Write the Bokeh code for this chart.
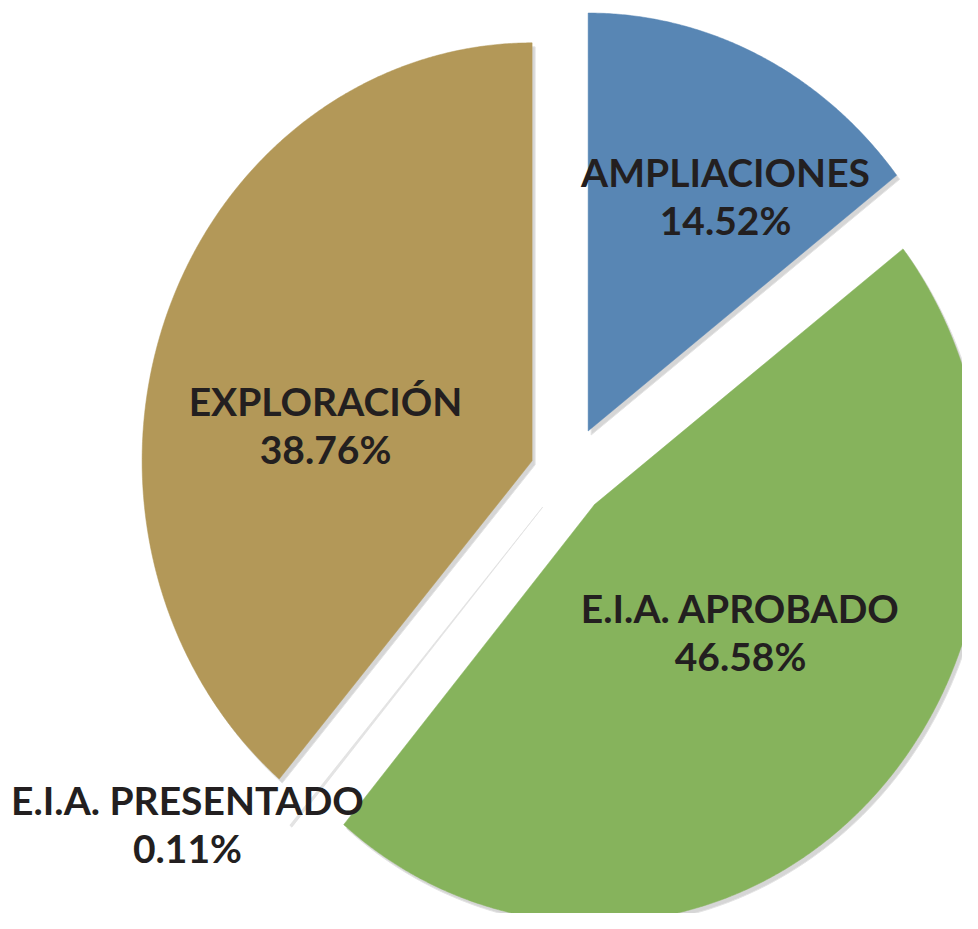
import numpy as np
from bokeh.plotting import figure
from bokeh.models import Range1d, ColumnDataSource
from bokeh.core.properties import value
from bokeh.embed import file_html
from bokeh.resources import INLINE

# ---- data ----
categories = ["AMPLIACIONES", "E.I.A. APROBADO", "E.I.A. PRESENTADO", "EXPLORACIÓN"]
shares = [14.52, 46.58, 0.11, 38.76]

# ---- styling / layout ----
colors = ["#5886b4", "#86b35c", "#e4e4e4", "#b39858"]
explode = [49, 41, 42, 41]          # explosion distance (px) for each slice
label_x = [725, 740, 187, 325]      # label centres (pixels)
label_y = [171, 607, 799, 400]
LINE_GAP = 48

W, H = 962, 913
CX, CY = 567.5, 474.5
RX, RY = 390.0, 418.0
SX = RX / RY

fr = np.array(shares) / np.sum(shares)
ends = np.cumsum(fr) * 2 * np.pi
starts = ends - fr * 2 * np.pi
mids = (starts + ends) / 2

xs, ys = [], []
for s, e, m, d in zip(starts, ends, mids, explode):
    ax = CX + d * SX * np.sin(m)
    ay = CY - d * np.cos(m)
    th = np.linspace(s, e, max(3, int(np.degrees(e - s) * 3)))
    px = np.concatenate([[ax], ax + RX * np.sin(th)])
    py = np.concatenate([[ay], ay - RY * np.cos(th)])
    xs.append(px)
    ys.append(py)

main_idx = [i for i, v in enumerate(shares) if v >= 1]
small_idx = [i for i, v in enumerate(shares) if v < 1]

shadow = ColumnDataSource(dict(xs=[xs[i] + 3 for i in main_idx],
                               ys=[ys[i] + 4 for i in main_idx]))
slices = ColumnDataSource(dict(xs=[xs[i] for i in main_idx],
                               ys=[ys[i] for i in main_idx],
                               color=[colors[i] for i in main_idx]))
tiny = ColumnDataSource(dict(xs=[xs[i] for i in small_idx],
                             ys=[ys[i] for i in small_idx],
                             color=[colors[i] for i in small_idx]))

p = figure(width=W, height=H, output_backend="svg", toolbar_location=None,
           x_range=Range1d(0, W), y_range=Range1d(H, 0),
           min_border=0, background_fill_color="white", border_fill_color="white")
p.axis.visible = False
p.grid.visible = False
p.outline_line_color = None

p.patches("xs", "ys", source=shadow, fill_color="#d6d6d6", line_color="#e4e4e4",
          line_width=1)
p.patches("xs", "ys", source=tiny, fill_color="color", line_color="#dddddd",
          line_width=0.6)
p.patches("xs", "ys", source=slices, fill_color="color", line_color="color",
          line_width=0.5)

names_src = ColumnDataSource(dict(
    x=label_x, y=label_y, text=categories))
pct_src = ColumnDataSource(dict(
    x=label_x, y=[y + LINE_GAP for y in label_y],
    text=[f"{v:.2f}%" for v in shares]))

for src in (names_src, pct_src):
    p.text("x", "y", text="text", source=src, text_font=value("Lato"),
           text_font_style="bold", text_font_size="39px", text_align="center",
           text_baseline="middle", text_color="#231f20")

open("out.html", "w").write(file_html(p, INLINE))
